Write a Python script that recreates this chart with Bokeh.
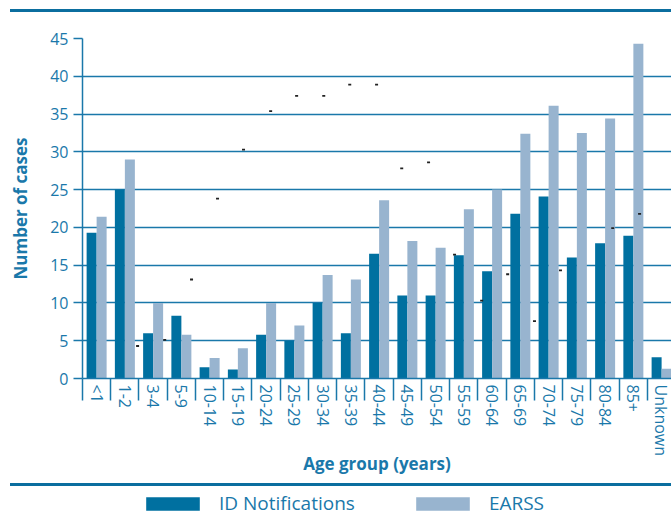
import math
from bokeh.plotting import figure
from bokeh.models import (ColumnDataSource, FixedTicker, Range1d, Legend,
                          LegendItem, Spacer, Div)
from bokeh.layouts import column
from bokeh.embed import file_html
from bokeh.resources import INLINE

# ---- data ----
age_groups = ["<1", "1-2", "3-4", "5-9", "10-14", "15-19", "20-24", "25-29",
              "30-34", "35-39", "40-44", "45-49", "50-54", "55-59", "60-64",
              "65-69", "70-74", "75-79", "80-84", "85+", "Unknown"]
id_notifications = [19.3, 25.0, 6.0, 8.3, 1.5, 1.2, 5.8, 5.0, 10.0, 6.0, 16.5,
                    11.0, 11.0, 16.3, 14.2, 21.8, 24.1, 16.0, 17.9, 18.9, 2.8]
earss = [21.4, 29.0, 10.0, 5.8, 2.7, 4.0, 10.0, 7.0, 13.7, 13.1, 23.6,
         18.2, 17.3, 22.4, 25.0, 32.4, 36.1, 32.5, 34.4, 44.3, 1.3]
# stray point markers visible in the source chart (position along the category axis, value)
dot_pos = [1.45, 2.41, 3.36, 4.28, 5.20, 6.16, 7.08, 8.04, 8.96, 9.91, 10.80,
           11.75, 12.67, 13.63, 14.55, 15.50, 16.42, 18.27, 19.22]
dot_val = [4.3, 5.1, 13.1, 23.8, 30.3, 35.4, 37.4, 37.4, 38.9, 38.9, 27.8,
           28.6, 16.4, 10.3, 13.8, 7.6, 14.3, 19.9, 21.8]
y_ticks = [0, 5, 10, 15, 20, 25, 30, 35, 40, 45]

# ---- style ----
ID_COLOR = "#0070a0"
EARSS_COLOR = "#98b4cf"
TEAL = "#1a78aa"
RULE = "#0b6e9f"
FONT = "Open Sans"
BAR_W = 0.354
W = 671
LEFT = 82

idx = list(range(len(age_groups)))
src = ColumnDataSource(dict(
    x_id=[i - BAR_W / 2 for i in idx],
    x_earss=[i + BAR_W / 2 for i in idx],
    id=id_notifications, earss=earss))

# ---------- main chart ----------
p = figure(width=W, height=471, toolbar_location=None,
           output_backend="svg", x_range=Range1d(-0.5, 20.35),
           y_range=Range1d(0, 45), min_border_left=LEFT, min_border_right=0,
           min_border_top=26, min_border_bottom=105,
           outline_line_color=None, background_fill_color="white")

r_id = p.vbar(x="x_id", top="id", width=BAR_W, source=src,
              fill_color=ID_COLOR, line_color=None)
r_ea = p.vbar(x="x_earss", top="earss", width=BAR_W, source=src,
              fill_color=EARSS_COLOR, line_color=None)
p.scatter(x=dot_pos, y=dot_val, marker="dash", size=3, line_color="#222222",
          line_width=1.8)

xa = p.xaxis[0]
xa.ticker = FixedTicker(ticks=idx, minor_ticks=[i - 0.5 for i in range(len(age_groups) + 1)])
xa.major_label_overrides = {i: lab for i, lab in zip(idx, age_groups)}
xa.major_label_orientation = -math.pi / 2
xa.major_tick_line_color = None
xa.major_tick_out = 0
xa.major_tick_in = 0
xa.major_label_standoff = -16
xa.minor_tick_out = 22
xa.minor_tick_in = 0
xa.minor_tick_line_color = TEAL
xa.minor_tick_line_width = 1.5
xa.axis_line_color = TEAL
xa.axis_line_width = 1.5
xa.axis_label = "Age group (years)"
xa.axis_label_standoff = -7

ya = p.yaxis[0]
ya.ticker = FixedTicker(ticks=y_ticks, minor_ticks=[])
ya.major_tick_out = 9
ya.major_tick_in = 0
ya.major_tick_line_color = TEAL
ya.major_tick_line_width = 1.5
ya.minor_tick_line_color = None
ya.axis_line_color = TEAL
ya.axis_line_width = 1.5
ya.major_label_standoff = 5
ya.axis_label = "Number of cases"
ya.axis_label_standoff = 15

for ax in (xa, ya):
    ax.major_label_text_font = FONT
    ax.major_label_text_font_size = "16px"
    ax.major_label_text_color = TEAL
    ax.axis_label_text_font = FONT
    ax.axis_label_text_font_size = "17px"
    ax.axis_label_text_font_style = "bold"
    ax.axis_label_text_color = TEAL

p.xgrid.visible = False
p.ygrid.ticker = FixedTicker(ticks=y_ticks)
p.ygrid.grid_line_color = TEAL
p.ygrid.grid_line_width = 1.5


# ---------- page rules (plain coloured bars) ----------
def rule():
    return Div(text="", width=W - 10, height=3, margin=(0, 0, 0, 10),
               styles={"background-color": RULE})


# ---------- legend ----------
leg = figure(width=W, height=31, toolbar_location=None, output_backend="svg",
             x_axis_type=None, y_axis_type=None,
             x_range=Range1d(0, 1), y_range=Range1d(0, 1),
             min_border_left=LEFT, min_border_right=0, min_border_top=0,
             min_border_bottom=0, outline_line_color=None,
             background_fill_color="white", border_fill_color="white")
# zero-height proxies so the legend can draw its swatches
l1 = leg.vbar(x=[0.5], top=[0], bottom=[0], width=0.01,
              fill_color=ID_COLOR, line_color=None)
l2 = leg.vbar(x=[0.5], top=[0], bottom=[0], width=0.01,
              fill_color=EARSS_COLOR, line_color=None)
legend = Legend(items=[LegendItem(label="ID Notifications", renderers=[l1]),
                       LegendItem(label="EARSS", renderers=[l2])],
                orientation="horizontal", location=(57, 1),
                glyph_width=67, glyph_height=17, label_height=17,
                label_standoff=13, spacing=54, padding=0, margin=0,
                border_line_color=None, background_fill_alpha=0,
                label_text_font=FONT, label_text_font_size="19px",
                label_text_color=TEAL)
leg.add_layout(legend, "center")

layout = column(Spacer(width=W, height=9), rule(), p, rule(), leg, spacing=0)
open("out.html", "w").write(file_html(layout, INLINE))
